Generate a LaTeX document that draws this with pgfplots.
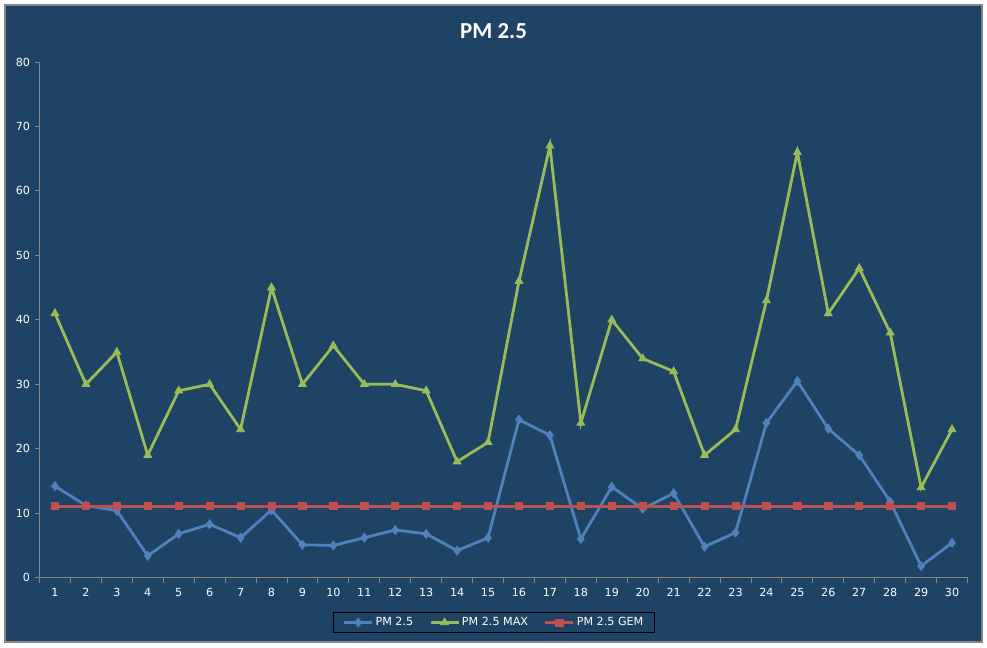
\documentclass[border=0pt]{standalone}
\usepackage{pgfplots}
\pgfplotsset{compat=1.18}
\usepackage{fontspec}
\setmainfont{Carlito}
\newfontfamily\tickfont{DejaVu Sans}
\definecolor{bg}{RGB}{31,67,101}
\definecolor{axgray}{RGB}{134,134,134}
\definecolor{pmblue}{RGB}{79,129,189}
\definecolor{pmgreen}{RGB}{155,187,89}
\definecolor{pmred}{RGB}{192,80,77}
\begin{document}
\begin{tikzpicture}[x=1bp,y=1bp]
\path[use as bounding box] (0,0) rectangle (987,648);
\fill[white] (0,0) rectangle (987,648);
\fill[bg] (5,6) rectangle (982,643);
\draw[axgray, line width=1.2bp] (5,6) rectangle (982,643);
\node[font=\fontsize{23}{26}\selectfont\bfseries, text=white] at (493.5,617.3) {PM 2.5};
\begin{axis}[
  at={(39.5bp,70.3bp)}, anchor=south west,
  scale only axis, width=928bp, height=515.7bp,
  xmin=0.5, xmax=30.5, ymin=0, ymax=80,
  axis x line*=bottom, axis y line*=left,
  axis line style={axgray, line width=0.9bp, -},
  xtick={1,2,...,30},
  minor xtick={0.5,1.5,...,30.5},
  ytick={0,10,...,80},
  minor ytick={0,10,...,80},
  tick align=outside, major tick length=0bp, minor tick length=5bp,
  tick style={axgray, line width=0.9bp},
  ticklabel style={font=\tickfont\fontsize{11.2}{13}\selectfont, text=white},
  xticklabel style={yshift=-7bp},
  yticklabel style={xshift=-6bp},
  /pgf/number format/assume math mode=true,
  legend columns=3,
  legend style={at={(0.4898,-0.0869)}, anchor=center, draw=black, fill=bg, text=white,
    font=\tickfont\fontsize{11.2}{13}\selectfont, line width=0.8bp,
    inner ysep=3.5bp, inner xsep=9bp,
    /tikz/every even column/.append style={column sep=14bp}},
  legend image code/.code={\draw[mark repeat=2,mark phase=2] plot coordinates {(0bp,0bp) (14bp,0bp) (28bp,0bp)};},
]
\addplot[color=pmblue, line width=2.8bp, mark=diamond*, mark size=4.5bp, mark options={fill=pmblue, line width=0.8bp}] coordinates {
(1,14.2) (2,11.2) (3,10.4) (4,3.4) (5,6.8) (6,8.3) (7,6.2) (8,10.5) (9,5.1) (10,5.0)
(11,6.2) (12,7.4) (13,6.8) (14,4.2) (15,6.2) (16,24.5) (17,22.1) (18,6.0) (19,14.1) (20,10.7)
(21,13.1) (22,4.8) (23,7.0) (24,24.0) (25,30.5) (26,23.1) (27,19.0) (28,11.8) (29,1.8) (30,5.4)};
\addlegendentry{PM 2.5}
\addplot[color=pmgreen, line width=2.8bp, mark=triangle*, mark size=4.5bp, mark options={fill=pmgreen, line width=0.8bp}] coordinates {
(1,41) (2,30) (3,35) (4,19) (5,29) (6,30) (7,23) (8,45) (9,30) (10,36)
(11,30) (12,30) (13,29) (14,18) (15,21) (16,46) (17,67) (18,24) (19,40) (20,34)
(21,32) (22,19) (23,23) (24,43) (25,66) (26,41) (27,48) (28,38) (29,14) (30,23)};
\addlegendentry{PM 2.5 MAX}
\addplot[color=pmred, line width=2.8bp, mark=square*, mark size=3.6bp, mark options={fill=pmred, line width=0.8bp}] coordinates {
(1,11.1) (2,11.1) (3,11.1) (4,11.1) (5,11.1) (6,11.1) (7,11.1) (8,11.1) (9,11.1) (10,11.1)
(11,11.1) (12,11.1) (13,11.1) (14,11.1) (15,11.1) (16,11.1) (17,11.1) (18,11.1) (19,11.1) (20,11.1)
(21,11.1) (22,11.1) (23,11.1) (24,11.1) (25,11.1) (26,11.1) (27,11.1) (28,11.1) (29,11.1) (30,11.1)};
\addlegendentry{PM 2.5 GEM}
\end{axis}
\end{tikzpicture}
\end{document}
